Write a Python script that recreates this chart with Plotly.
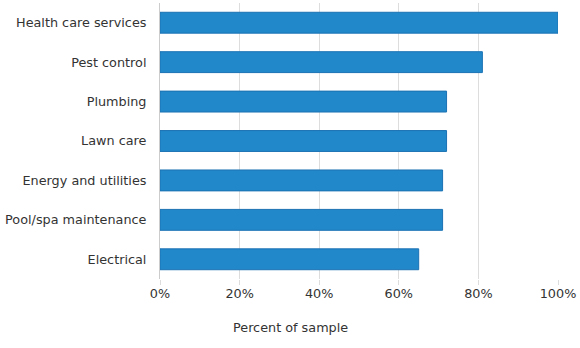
import plotly.graph_objects as go

categories = [
    "Health care services",
    "Pest control",
    "Plumbing",
    "Lawn care",
    "Energy and utilities",
    "Pool/spa maintenance",
    "Electrical",
]
percent = [100, 81, 72, 72, 71, 71, 65]
tick_values = [0, 20, 40, 60, 80, 100]
tick_labels = ["0%", "20%", "40%", "60%", "80%", "100%"]
axis_title = "Percent of sample"

fig = go.Figure(
    go.Bar(
        x=percent,
        y=categories,
        orientation="h",
        width=0.53,
        marker=dict(color="#2188c9", line=dict(color="#1b72b3", width=1)),
        hoverinfo="x+y",
    )
)

fig.update_layout(
    width=580,
    height=348,
    margin=dict(l=160, r=22, t=3, b=69),
    paper_bgcolor="white",
    plot_bgcolor="white",
    font=dict(family="DejaVu Sans, Verdana, sans-serif", size=12.8, color="#333333"),
    showlegend=False,
    bargap=0.47,
)

fig.update_xaxes(
    range=[0, 100],
    tickvals=tick_values,
    ticktext=tick_labels,
    showgrid=True,
    gridcolor="#dddddd",
    gridwidth=1,
    zeroline=False,
    showline=False,
    ticks="outside",
    ticklen=5,
    tickcolor="#dddddd",
    ticklabelstandoff=-2,
)

fig.update_yaxes(
    autorange="reversed",
    showgrid=False,
    zeroline=False,
    showline=True,
    linecolor="#cccccc",
    ticks="",
    ticklabelstandoff=10,
)

# axis title centred on the page width, below the tick labels
fig.add_annotation(
    text=axis_title,
    xref="paper",
    yref="paper",
    x=(290 - 160) / 398,
    y=0,
    yshift=-48,
    xanchor="center",
    yanchor="middle",
    showarrow=False,
    font=dict(size=12.8, color="#333333"),
)

fig.write_html("out.html")
